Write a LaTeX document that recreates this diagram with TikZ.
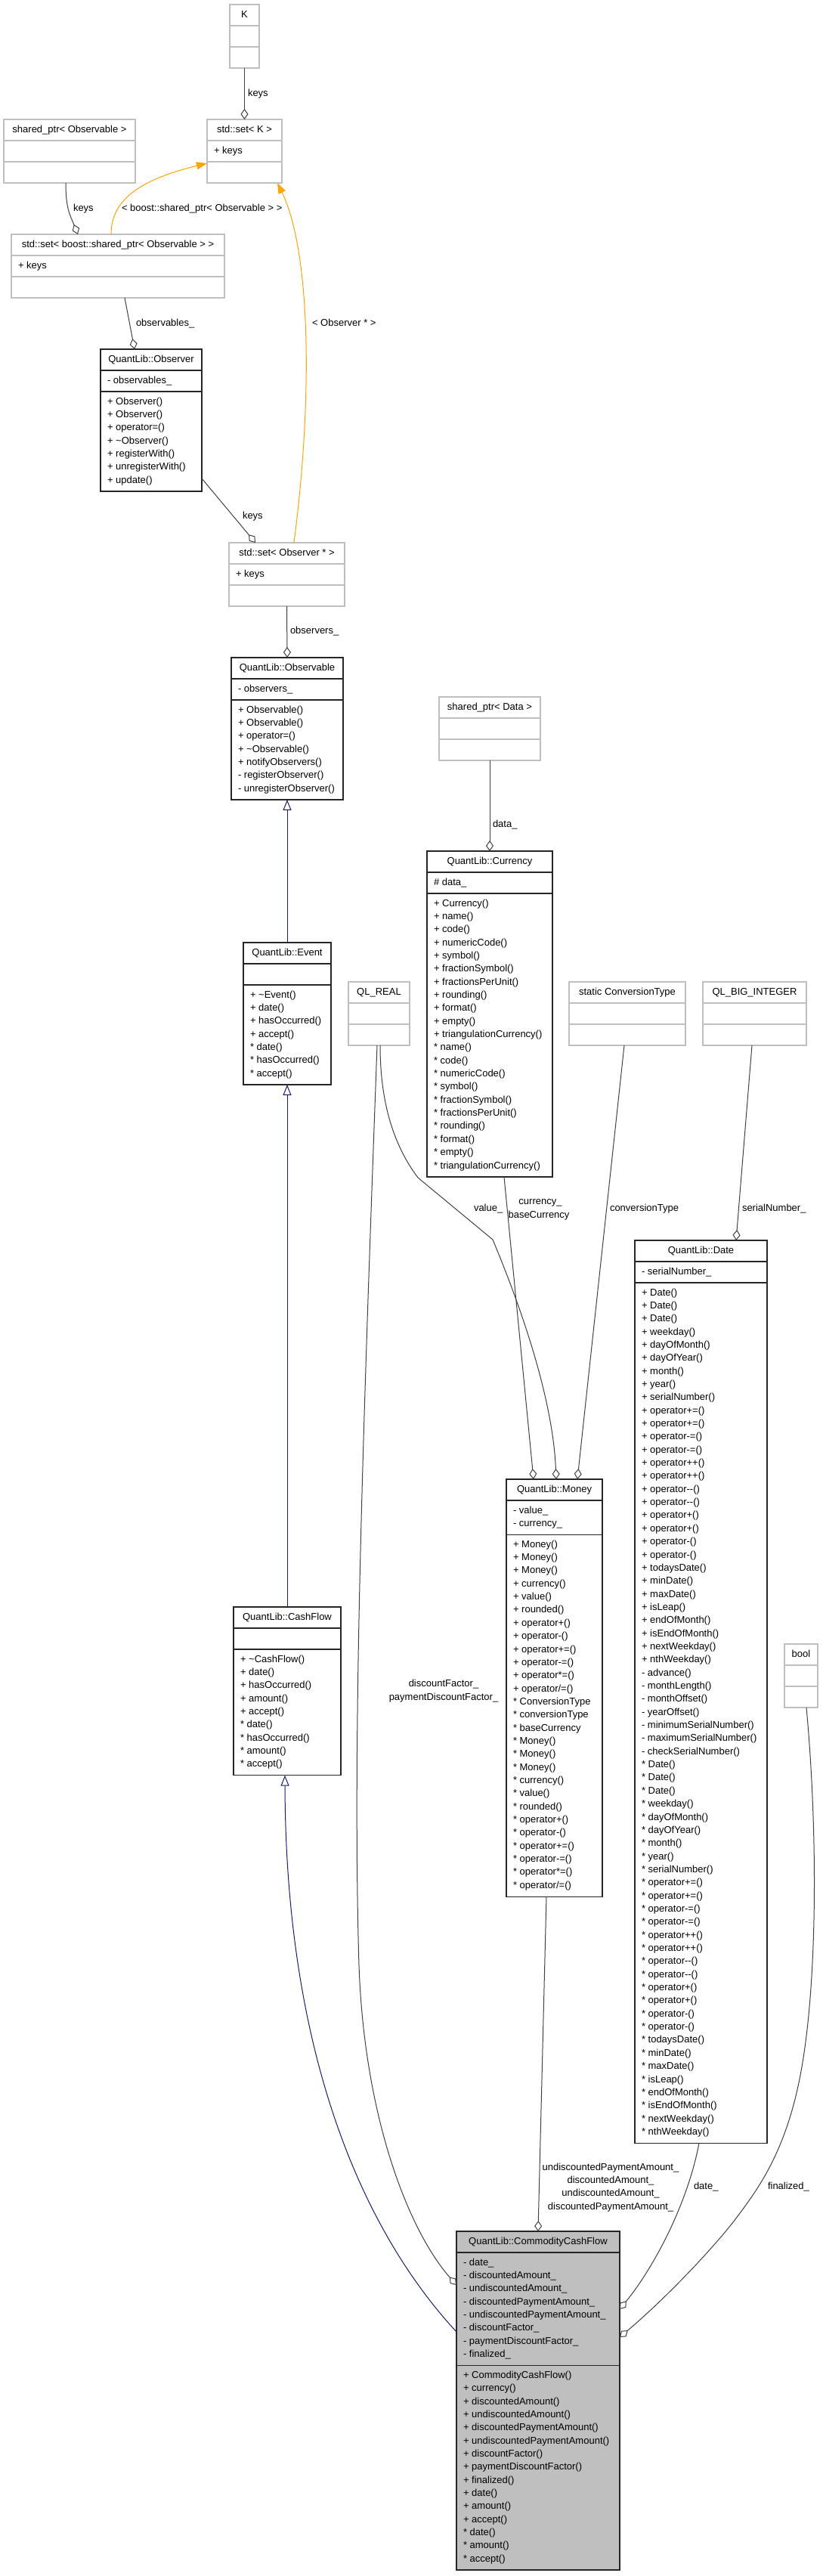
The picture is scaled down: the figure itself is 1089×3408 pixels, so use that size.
\documentclass[tikz,border=0pt]{standalone}
\usepackage{fontspec}
\setmainfont{Liberation Sans}[Ligatures=TeXOff]
\usetikzlibrary{arrows.meta,calc}
\definecolor{boxgray}{HTML}{BFBFBF}
\definecolor{mainfill}{HTML}{BFBFBF}
\definecolor{edgegray}{HTML}{404040}
\definecolor{tmplorange}{HTML}{FFA500}
\definecolor{inhblue}{HTML}{191970}

\newcommand\umlbox[9]{%
 \pgfmathsetmacro\ubxa{#3}%
 \pgfmathsetmacro\ubxb{#4}%
 \pgfmathsetmacro\ubyt{#5}%
 \pgfmathsetmacro\ubha{max(28,#7*17.35+10.5)}%
 \pgfmathsetmacro\ubhm{max(28,#8*17.35+10.5)}%
 \pgfmathsetmacro\ubya{\ubyt+28}%
 \pgfmathsetmacro\ubym{\ubya+\ubha}%
 \pgfmathsetmacro\ubyb{\ubym+\ubhm}%
 \pgfmathsetmacro\ubw{\ubxb-\ubxa}%
 \pgfmathsetmacro\ubh{\ubyb-\ubyt}%
 \pgfmathsetmacro\ubcx{(\ubxa+\ubxb)/2}%
 \pgfmathsetmacro\ubcy{(\ubyt+\ubyb)/2}%
 \node[#2, minimum width=\ubw pt, minimum height=\ubh pt] (#1) at (\ubcx,\ubcy) {};
 \draw[#2] (\ubxa,\ubya) -- (\ubxb,\ubya);
 \draw[#2] (\ubxa,\ubym) -- (\ubxb,\ubym);
 \node[anchor=base] (#1-h) at (\ubcx,\ubyt+17) {#6};
 \ifnum#7>0\relax
  \foreach \t [count=\i from 0] in {#9} {\node[anchor=base west] (#1-a\i) at (\ubxa+9,\ubya+17+\i*17.35) {\t};}
 \fi
 \def\ubname{#1}%
}
\newcommand\umlmeth[1]{%
 \foreach \t [count=\i from 0] in {#1} {\node[anchor=base west] (\ubname-m\i) at (\ubxa+9,\ubym+17+\i*17.35) {\t};}
}

\begin{document}
\begin{tikzpicture}[x=1pt,y=-1pt,
  font=\fontsize{13}{15}\selectfont,
  every node/.style={inner sep=0pt,outer sep=0pt},
  docbox/.style={draw=black!85,line width=1.3pt,fill=white},
  undocbox/.style={draw=boxgray,line width=1.5pt,fill=white},
  mainbox/.style={draw=black!85,line width=1.3pt,fill=mainfill},
  assoc/.style={draw=edgegray,line width=1pt,-{Diamond[open,fill=white,length=14pt,width=10pt]}},
  tmpl/.style={draw=tmplorange,line width=1pt,-{Triangle[length=14pt,width=10pt,fill=tmplorange]}},
  inherit/.style={draw=inhblue,line width=1pt,-{Triangle[open,fill=white,length=14pt,width=11pt]}},
  lbl/.style={anchor=base west}
]
\fill[white] (0,0) rectangle (1089,3408);
\useasboundingbox (0,0) rectangle (1089,3408);

% ---------- boxes ----------
\umlbox{K}{undocbox}{304}{343}{6}{K}{0}{0}{}
\umlbox{setK}{undocbox}{274}{373}{158}{std::set< K >}{1}{0}{+ keys}
\umlbox{spObs}{undocbox}{5}{179}{158}{shared\_ptr< Observable >}{0}{0}{}
\umlbox{setSP}{undocbox}{15}{297}{310}{std::set< boost::shared\_ptr< Observable > >}{1}{0}{+ keys}
\umlbox{Observer}{docbox}{133}{267}{462}{QuantLib::Observer}{1}{7}{- observables\_}
\umlmeth{+ Observer(),+ Observer(),+ operator=(),+ \textasciitilde Observer(),+ registerWith(),+ unregisterWith(),+ update()}
\umlbox{setObs}{undocbox}{303}{456}{718}{std::set< Observer * >}{1}{0}{+ keys}
\umlbox{Observable}{docbox}{306}{454}{870}{QuantLib::Observable}{1}{7}{- observers\_}
\umlmeth{+ Observable(),+ Observable(),+ operator=(),+ \textasciitilde Observable(),+ notifyObservers(),- registerObserver(),- unregisterObserver()}
\umlbox{spData}{undocbox}{581}{715}{922}{shared\_ptr< Data >}{0}{0}{}
\umlbox{Currency}{docbox}{565}{731}{1126}{QuantLib::Currency}{1}{21}{\# data\_}
\umlmeth{+ Currency(),+ name(),+ code(),+ numericCode(),+ symbol(),+ fractionSymbol(),+ fractionsPerUnit(),+ rounding(),+ format(),+ empty(),+ triangulationCurrency(),* name(),* code(),* numericCode(),* symbol(),* fractionSymbol(),* fractionsPerUnit(),* rounding(),* format(),* empty(),* triangulationCurrency()}
\umlbox{Event}{docbox}{322}{438}{1247}{QuantLib::Event}{0}{7}{}
\umlmeth{+ \textasciitilde Event(),+ date(),+ hasOccurred(),+ accept(),* date(),* hasOccurred(),* accept()}
\umlbox{QLREAL}{undocbox}{461}{542}{1299}{QL\_REAL}{0}{0}{}
\umlbox{ConvType}{undocbox}{753}{907}{1299}{static ConversionType}{0}{0}{}
\umlbox{QLBIG}{undocbox}{930}{1067}{1299}{QL\_BIG\_INTEGER}{0}{0}{}
\umlbox{Date}{docbox}{840}{1015}{1641}{QuantLib::Date}{1}{65}{- serialNumber\_}
\umlmeth{+ Date(),+ Date(),+ Date(),+ weekday(),+ dayOfMonth(),+ dayOfYear(),+ month(),+ year(),+ serialNumber(),+ operator+=(),+ operator+=(),+ operator-=(),+ operator-=(),+ operator++(),+ operator++(),+ operator--(),+ operator--(),+ operator+(),+ operator+(),+ operator-(),+ operator-(),+ todaysDate(),+ minDate(),+ maxDate(),+ isLeap(),+ endOfMonth(),+ isEndOfMonth(),+ nextWeekday(),+ nthWeekday(),- advance(),- monthLength(),- monthOffset(),- yearOffset(),- minimumSerialNumber(),- maximumSerialNumber(),- checkSerialNumber(),* Date(),* Date(),* Date(),* weekday(),* dayOfMonth(),* dayOfYear(),* month(),* year(),* serialNumber(),* operator+=(),* operator+=(),* operator-=(),* operator-=(),* operator++(),* operator++(),* operator--(),* operator--(),* operator+(),* operator+(),* operator-(),* operator-(),* todaysDate(),* minDate(),* maxDate(),* isLeap(),* endOfMonth(),* isEndOfMonth(),* nextWeekday(),* nthWeekday()}
\umlbox{Money}{docbox}{670}{797}{1957}{QuantLib::Money}{2}{27}{- value\_,- currency\_}
\umlmeth{+ Money(),+ Money(),+ Money(),+ currency(),+ value(),+ rounded(),+ operator+(),+ operator-(),+ operator+=(),+ operator-=(),+ operator*=(),+ operator/=(),* ConversionType,* conversionType,* baseCurrency,* Money(),* Money(),* Money(),* currency(),* value(),* rounded(),* operator+(),* operator-(),* operator+=(),* operator-=(),* operator*=(),* operator/=()}
\umlbox{CashFlow}{docbox}{309}{451}{2126}{QuantLib::CashFlow}{0}{9}{}
\umlmeth{+ \textasciitilde CashFlow(),+ date(),+ hasOccurred(),+ amount(),+ accept(),* date(),* hasOccurred(),* amount(),* accept()}
\umlbox{bool}{undocbox}{1038}{1082}{2175}{bool}{0}{0}{}
\umlbox{CCF}{mainbox}{604}{820}{2952}{QuantLib::CommodityCashFlow}{8}{15}{- date\_,- discountedAmount\_,- undiscountedAmount\_,- discountedPaymentAmount\_,- undiscountedPaymentAmount\_,- discountFactor\_,- paymentDiscountFactor\_,- finalized\_}
\umlmeth{+ CommodityCashFlow(),+ currency(),+ discountedAmount(),+ undiscountedAmount(),+ discountedPaymentAmount(),+ undiscountedPaymentAmount(),+ discountFactor(),+ paymentDiscountFactor(),+ finalized(),+ date(),+ amount(),+ accept(),* date(),* amount(),* accept()}

% ---------- template edges ----------
\draw[tmpl] ($(setSP.north west)+(132,0)$) .. controls +(0,-45) and +(-90,22) .. ($(setK.north west)+(0,58)$);
\node[lbl] (l-tsp) at (161,279.5) {< boost::shared\_ptr< Observable > >};
\draw[tmpl] ($(setObs.north west)+(86,0)$) .. controls +(26,-200) and +(43,88) .. ($(setK.south west)+(93,0)$);
\node[lbl] (l-tobs) at (413,431.5) {< Observer * >};

% ---------- association edges ----------
\draw[assoc] (K.south) -- (setK.north);
\node[lbl] (l-keys1) at (328,127.5) {keys};
\draw[assoc] ($(spObs.south west)+(82,0)$) .. controls +(0,35) and +(-10,-25) .. ($(setSP.north west)+(88,0)$);
\node[lbl] (l-keys2) at (97,279.5) {keys};
\draw[assoc] ($(setSP.south west)+(150,0)$) -- ($(Observer.north west)+(45,0)$);
\node[lbl] (l-obsv) at (180,431.5) {observables\_};
\draw[assoc] ($(Observer.north east)+(0,171)$) -- ($(setObs.north west)+(35,0)$);
\node[lbl] (l-keys3) at (321,686.5) {keys};
\draw[assoc] (setObs.south) -- (Observable.north);
\node[lbl] (l-obsr) at (384,838.5) {observers\_};
\draw[assoc] (spData.south) -- (Currency.north);
\node[lbl] (l-data) at (652,1094.5) {data\_};

% QL_REAL -> Money (value_)
\draw[assoc] ($(QLREAL.south west)+(42,0)$) .. controls +(0,80) and +(-30,-40) .. (553,1558) -- (652,1640) .. controls +(25,60) and +(-5,-120) .. ($(Money.north west)+(66,0)$);
\node[lbl] (l-value) at (627,1602.5) {value\_};
% Currency -> Money
\draw[assoc] ($(Currency.south west)+(102,0)$) -- ($(Money.north west)+(36,0)$);
\node[anchor=base] (l-cur1) at (715,1593.5) {currency\_};
\node[anchor=base] (l-cur2) at (713,1611.5) {baseCurrency};
% ConversionType -> Money
\draw[assoc] ($(ConvType.south west)+(73,0)$) -- ($(Money.north west)+(94,0)$);
\node[lbl] (l-conv) at (807,1602.5) {conversionType};
% QL_BIG_INTEGER -> Date
\draw[assoc] ($(QLBIG.south west)+(65,0)$) -- ($(Date.north west)+(134,0)$);
\node[lbl] (l-serial) at (982,1602.5) {serialNumber\_};

% QL_REAL -> CCF
\draw[assoc] ($(QLREAL.south west)+(38,0)$) .. controls +(-19,517) and +(-9,-300) .. (475,2600) .. controls +(7,200) and +(-64,-73) .. ($(CCF.north west)+(0,71)$);
\node[anchor=base] (l-df1) at (587,2231.5) {discountFactor\_};
\node[anchor=base] (l-df2) at (587,2249.5) {paymentDiscountFactor\_};
% Money -> CCF
\draw[assoc] ($(Money.south west)+(53,0)$) -- ($(CCF.north west)+(108,0)$);
\node[anchor=base] (l-m1) at (808,2871.2) {undiscountedPaymentAmount\_};
\node[anchor=base] (l-m2) at (808,2888.5) {discountedAmount\_};
\node[anchor=base] (l-m3) at (808,2905.9) {undiscountedAmount\_};
\node[anchor=base] (l-m4) at (808,2923.2) {discountedPaymentAmount\_};
% Date -> CCF
\draw[assoc] ($(Date.south west)+(85,0)$) .. controls +(-15,80) and +(45,-55) .. ($(CCF.north east)+(0,103)$);
\node[lbl] (l-date) at (918,2896.5) {date\_};
% bool -> CCF
\draw[assoc] ($(bool.south west)+(29,0)$) .. controls (1082,2420) and (1082,2620) .. (1060,2740) .. controls (1040,2850) and (1000,2900) .. (970,2940) .. controls (930,2990) and (870,3050) .. ($(CCF.north east)+(0,140)$);
\node[lbl] (l-fin) at (1016,2896.5) {finalized\_};

% ---------- inheritance ----------
\draw[inherit] (Event.north) -- (Observable.south);
\draw[inherit] (CashFlow.north) -- (Event.south);
\draw[inherit] ($(CCF.north west)+(0,133)$) .. controls +(-134,-145) and +(1,351) .. ($(CashFlow.south west)+(68,0)$);
\end{tikzpicture}
\end{document}
